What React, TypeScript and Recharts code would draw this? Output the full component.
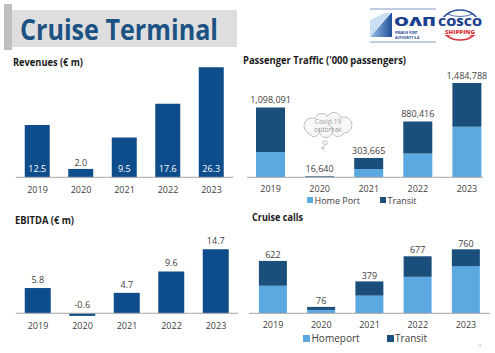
import React from 'react';
import { BarChart, Bar, XAxis, YAxis, LabelList, ReferenceLine, Legend } from 'recharts';

const years = ['2019', '2020', '2021', '2022', '2023'];
const revenues = [12.5, 2.0, 9.5, 17.6, 26.3];
const ebitda = [5.8, -0.6, 4.7, 9.6, 14.7];
const paxTotal = [1098091, 16640, 303665, 880416, 1484788];
const paxHomePort = [400000, 6000, 130000, 375000, 797000];
const paxTransit = [698091, 10640, 173665, 505416, 687788];
const callsTotal = [622, 76, 379, 677, 760];
const callsHomeport = [327, 40, 210, 433, 561];
const callsTransit = [295, 36, 169, 244, 199];

const FONT = '"Open Sans", "Liberation Sans", sans-serif';
const TEXT = '#404040';
const AXIS = '#A6A6A6';
const NAVY = '#0E4D8B';
const DARK = '#1B4F7B';
const LIGHT = '#5CA8E0';

const revData = years.map((y, i) => ({ year: y, value: revenues[i] }));
const ebitdaData = years.map((y, i) => ({ year: y, value: ebitda[i] }));
const paxData = years.map((y, i) => ({ year: y, home: paxHomePort[i], transit: paxTransit[i], total: paxTotal[i] }));
const callsData = years.map((y, i) => ({ year: y, home: callsHomeport[i], transit: callsTransit[i], total: callsTotal[i] }));

const box = (props: any) => {
  const vb = props.viewBox || props;
  const x = Number(vb.x), y = Number(vb.y), w = Number(vb.width), h = Number(vb.height);
  return { cx: x + w / 2, top: Math.min(y, y + h), bottom: Math.max(y, y + h) };
};

const RevLabel = (props: any) => {
  const { cx, top, bottom } = box(props);
  const v = Number(props.value);
  const inside = v > 5;
  return (
    <text x={cx} y={inside ? bottom - 5 : top - 2.7} textAnchor="middle" fill={inside ? '#ffffff' : TEXT} fontSize={9} fontFamily={FONT}>
      {v.toFixed(1)}
    </text>
  );
};

const EbitdaLabel = (props: any) => {
  const { cx, top } = box(props);
  const v = Number(props.value);
  return (
    <text x={cx} y={top - 5.2} textAnchor="middle" fill={TEXT} fontSize={9} fontFamily={FONT}>
      {v.toFixed(1)}
    </text>
  );
};

const makeLegend = (fontSize: number, gap: number, sq: number) => (props: any) => (
  <div style={{ display: 'flex', gap, fontFamily: FONT, fontSize, color: TEXT, lineHeight: 1, whiteSpace: 'nowrap' }}>
    {(props.payload || []).map((p: any, i: number) => (
      <div key={i} style={{ display: 'flex', alignItems: 'center' }}>
        <span style={{ display: 'inline-block', width: sq, height: sq, background: p.color, marginRight: 1.5 }} />
        {p.value}
      </div>
    ))}
  </div>
);

const tickStyle = { fill: TEXT, fontSize: 9, fontFamily: FONT };
const fmt = (v: any) => Number(v).toLocaleString('en-US');

function Overlay() {
  const cloudCircles = [
    [312, 126, 8], [322, 121, 7.5], [334, 120, 7.5], [344, 125, 8], [338, 130, 6.5], [326, 131, 6.5], [314, 131, 5.5],
  ];
  return (
    <svg width={495} height={353} style={{ position: 'absolute', left: 0, top: 0, pointerEvents: 'none' }}>
      <defs>
        <linearGradient id="olpg" x1="0" y1="0" x2="1" y2="0">
          <stop offset="0" stopColor="#9fc3e6" />
          <stop offset="1" stopColor="#1f4f9a" />
        </linearGradient>
      </defs>
      {/* header */}
      <rect x={4} y={4} width={8} height={46} fill="#BFBFBF" />
      <rect x={12} y={10} width={225} height={37} fill="#DEDEDE" />
      <text x={20} y={40} fontSize={29} fontWeight={700} fill="#1C5283" fontFamily={FONT} textLength={198} lengthAdjust="spacingAndGlyphs">
        Cruise Terminal
      </text>
      {/* OLP logo */}
      <line x1={370} y1={9} x2={436} y2={9} stroke="#7f9cc0" strokeWidth={1} />
      <line x1={370} y1={42} x2={436} y2={42} stroke="#7f9cc0" strokeWidth={1} />
      <polygon points="370,37 391,13 392,13 392,37" fill="url(#olpg)" />
      <polygon points="370,37 370,20 385,13 391,13" fill="#c9def2" />
      <text x={394} y={26} fontSize={13} fontWeight={800} fill="#1d3f8f" fontFamily={FONT} textLength={42} lengthAdjust="spacingAndGlyphs">ΟΛΠ</text>
      <text x={395} y={34} fontSize={3.2} fontWeight={700} fill="#1d3f8f" fontFamily={FONT}>PIRAEUS PORT</text>
      <text x={395} y={38.5} fontSize={3.2} fontWeight={700} fill="#1d3f8f" fontFamily={FONT}>AUTHORITY S.A.</text>
      {/* COSCO logo */}
      <path d="M441,25 A19,15 0 0 1 479,25" fill="none" stroke="#2a4f9e" strokeWidth={1.6} />
      <path d="M441,25 A19,15 0 0 0 479,25" fill="none" stroke="#d9333a" strokeWidth={1.6} />
      <path d="M447,14 Q460,19 473,14" fill="none" stroke="#2a4f9e" strokeWidth={0.8} />
      <path d="M447,36 Q460,31 473,36" fill="none" stroke="#d9333a" strokeWidth={0.8} />
      <rect x={437} y={17} width={46} height={18} fill="#ffffff" />
      <text x={460} y={25.5} fontSize={10.5} fontWeight={800} fill="#1d3f8f" fontFamily={FONT} textAnchor="middle" textLength={44} lengthAdjust="spacingAndGlyphs">COSCO</text>
      <text x={460} y={34} fontSize={5} fontWeight={800} fill="#d9333a" fontFamily={FONT} textAnchor="middle" textLength={30} lengthAdjust="spacingAndGlyphs">SHIPPING</text>
      {/* section titles */}
      <text x={13} y={66} fontSize={10} fontWeight={700} fill="#1a1a1a" fontFamily={FONT} textLength={70} lengthAdjust="spacingAndGlyphs">Revenues (€ m)</text>
      <text x={243} y={63.5} fontSize={10} fontWeight={700} fill="#1a1a1a" fontFamily={FONT} textLength={163} lengthAdjust="spacingAndGlyphs">Passenger Traffic ('000 passengers)</text>
      <text x={15} y={223.5} fontSize={10} fontWeight={700} fill="#1a1a1a" fontFamily={FONT} textLength={59} lengthAdjust="spacingAndGlyphs">EBITDA (€ m)</text>
      <text x={252} y={220.5} fontSize={10} fontWeight={700} fill="#1a1a1a" fontFamily={FONT} textLength={51} lengthAdjust="spacingAndGlyphs">Cruise calls</text>
      {/* covid cloud */}
      {cloudCircles.map((c, i) => (
        <circle key={'s' + i} cx={c[0]} cy={c[1]} r={c[2]} fill="#f7f7f7" stroke="#aaaaaa" strokeWidth={0.8} />
      ))}
      {cloudCircles.map((c, i) => (
        <circle key={'f' + i} cx={c[0]} cy={c[1]} r={c[2] - 0.6} fill="#f7f7f7" />
      ))}
      <circle cx={325} cy={143} r={2.2} fill="#f7f7f7" stroke="#aaaaaa" strokeWidth={0.7} />
      <circle cx={323} cy={148} r={1.4} fill="#f7f7f7" stroke="#aaaaaa" strokeWidth={0.7} />
      <text x={328} y={124} fontSize={6.5} fill="#9a9a9a" fontFamily={FONT} textAnchor="middle">Covid-19</text>
      <text x={328} y={132} fontSize={6.5} fill="#9a9a9a" fontFamily={FONT} textAnchor="middle">outbreak</text>
      <text x={477} y={347} fontSize={4} fill="#bbbbbb" fontFamily={FONT}>18</text>
    </svg>
  );
}

export default function App() {
  return (
    <div style={{ position: 'absolute', left: 0, top: 0, width: 495, height: 353, background: '#ffffff', overflow: 'hidden', fontFamily: FONT }}>
      {/* Revenues */}
      <div style={{ position: 'absolute', left: 0, top: 55 }}>
        <BarChart width={240} height={145} data={revData} margin={{ top: 12.3, right: 6.75, bottom: 8.7, left: 15.75 }} barSize={25}>
          <XAxis dataKey="year" height={14} tickLine={false} axisLine={{ stroke: AXIS }} tick={tickStyle} tickSize={7} tickMargin={2} interval={0} />
          <YAxis hide width={0} domain={[0, 26.3]} />
          <Bar dataKey="value" fill={NAVY} isAnimationActive={false}>
            <LabelList dataKey="value" content={RevLabel} />
          </Bar>
        </BarChart>
      </div>

      {/* Passenger traffic */}
      <div style={{ position: 'absolute', left: 240, top: 55 }}>
        <BarChart width={255} height={152} data={paxData} margin={{ top: 28, right: 12, bottom: 15.7, left: 7 }} barSize={29}>
          <XAxis dataKey="year" height={14} tickLine={false} axisLine={{ stroke: AXIS }} tick={tickStyle} tickSize={6.5} tickMargin={2} interval={0} padding={{ left: -1, right: -8.5 }} />
          <YAxis hide width={0} domain={[0, 1484788]} />
          <Bar dataKey="home" name="Home Port" stackId="a" fill={LIGHT} isAnimationActive={false} />
          <Bar dataKey="transit" name="Transit" stackId="a" fill={DARK} isAnimationActive={false}>
            <LabelList dataKey="total" position="top" offset={4.5} formatter={fmt} fill={TEXT} fontSize={9} fontFamily={FONT} />
          </Bar>
          <Legend layout="horizontal" verticalAlign="middle" align="center" wrapperStyle={{ position: 'absolute', top: 140.5, left: 67, width: 'auto' }} content={makeLegend(9, 20, 6)} />
        </BarChart>
      </div>

      {/* EBITDA */}
      <div style={{ position: 'absolute', left: 0, top: 200 }}>
        <BarChart width={240} height={153} data={ebitdaData} margin={{ top: 49.3, right: 1.75, bottom: 20.5, left: 15.75 }} barSize={26}>
          <XAxis dataKey="year" height={14} tickLine={false} axisLine={false} tick={tickStyle} tickSize={2} tickMargin={2} interval={0} />
          <YAxis hide width={0} domain={[-1.2, 14.7]} />
          <ReferenceLine y={0} stroke={AXIS} />
          <Bar dataKey="value" fill={NAVY} isAnimationActive={false}>
            <LabelList dataKey="value" content={EbitdaLabel} />
          </Bar>
        </BarChart>
      </div>

      {/* Cruise calls */}
      <div style={{ position: 'absolute', left: 240, top: 200 }}>
        <BarChart width={255} height={153} data={callsData} margin={{ top: 49.3, right: 4.9, bottom: 25.7, left: 8.9 }} barSize={28}>
          <XAxis dataKey="year" height={14} tickLine={false} axisLine={{ stroke: AXIS }} tick={tickStyle} tickSize={6.5} tickMargin={2} interval={0} />
          <YAxis hide width={0} domain={[0, 760]} />
          <Bar dataKey="home" name="Homeport" stackId="a" fill={LIGHT} isAnimationActive={false} />
          <Bar dataKey="transit" name="Transit" stackId="a" fill={DARK} isAnimationActive={false}>
            <LabelList dataKey="total" position="top" offset={2.8} fill={TEXT} fontSize={9} fontFamily={FONT} />
          </Bar>
          <Legend layout="horizontal" verticalAlign="middle" align="center" wrapperStyle={{ position: 'absolute', top: 133, left: 63, width: 'auto' }} content={makeLegend(10, 27, 7)} />
        </BarChart>
      </div>

      <Overlay />
    </div>
  );
}
